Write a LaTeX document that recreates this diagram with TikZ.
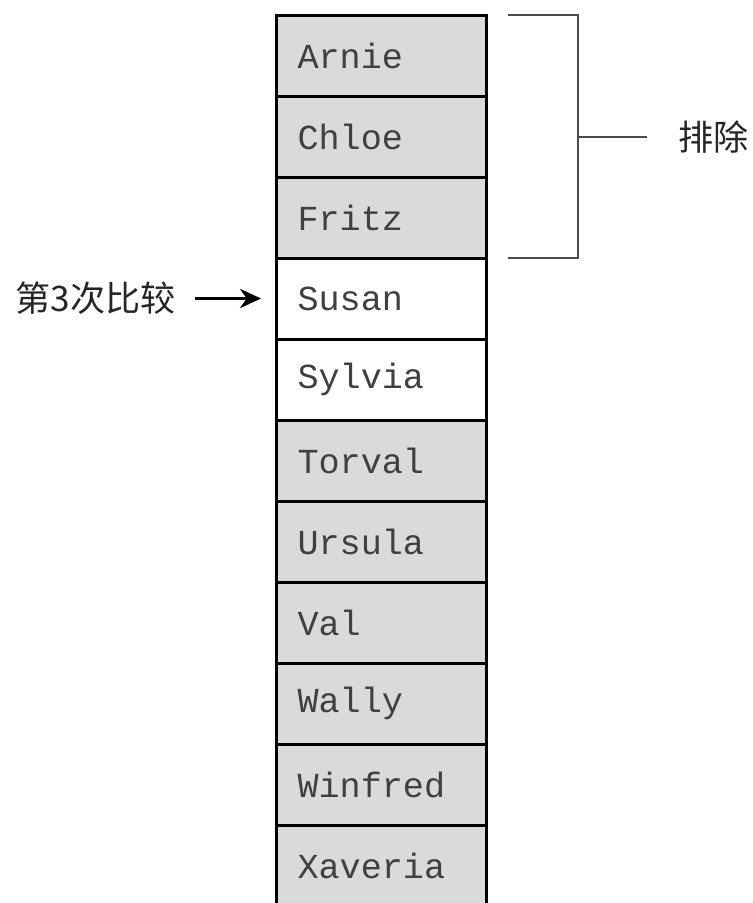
\documentclass[tikz,border=0pt]{standalone}
\usepackage{fontspec}
\setmonofont{Liberation Mono}
\newfontfamily\cjk{Noto Sans CJK SC}
\usetikzlibrary{positioning,arrows.meta}
\definecolor{SlotGray}{RGB}{218,218,218}
\definecolor{InkGray}{RGB}{75,75,75}
\tikzset{
  slot/.style={draw=black,line width=1.7pt,fill=white,minimum width=4.2cm,
    minimum height=1.62cm,inner xsep=0.42cm,inner ysep=0pt,text width=3.36cm,
    align=left,text=black!75,font=\ttfamily\fontsize{20}{24}\selectfont},
  gone/.style={slot,fill=SlotGray},
  tag/.style={inner sep=0pt,text=black!85,font=\cjk\fontsize{20}{24}\selectfont},
  bar/.style={draw=InkGray,line width=1.2pt},
  pointer/.style={draw=black,line width=1.4pt,-{Stealth[length=12pt,width=11pt]}},
}

\begin{document}
\begin{tikzpicture}[x=0.02cm,y=-0.02cm]
\useasboundingbox (0,0) rectangle (753,903);
\node[gone] (arnie) at (381.5,55.5) {Arnie};
\node[gone] (chloe) at (381.5,136.5) {Chloe};
\node[gone] (fritz) at (381.5,217.5) {Fritz};
\node[slot] (susan) at (381.5,298.5) {Susan};
\node[slot] (sylvia) at (381.5,379.5) {Sylvia};
\node[gone] (torval) at (381.5,460.5) {Torval};
\node[gone] (ursula) at (381.5,541.5) {Ursula};
\node[gone] (val) at (381.5,622.5) {Val};
\node[gone] (wally) at (381.5,703.5) {Wally};
\node[gone] (winfred) at (381.5,784.5) {Winfred};
\node[gone] (xaveria) at (381.5,865.5) {Xaveria};
% bracket over the first three
\coordinate (btop) at (508,15);
\coordinate (bcorA) at (578,15);
\coordinate (bcorB) at (578,258);
\coordinate (bbot) at (508,258);
\coordinate (bmid) at (578,137);
\node[tag,anchor=west] (drop) at (678,137) {排除};
\draw[bar] (btop) -- (bcorA) -- (bcorB) -- (bbot);
\draw[bar,shorten >=0.62cm] (bmid) -- (drop.west);
% third comparison
\node[tag,anchor=east] (third) at (176,298.5) {第3次比较};
\draw[pointer,shorten <=0.38cm,shorten >=0.28cm] (third) -- (susan);
\end{tikzpicture}
\end{document}
